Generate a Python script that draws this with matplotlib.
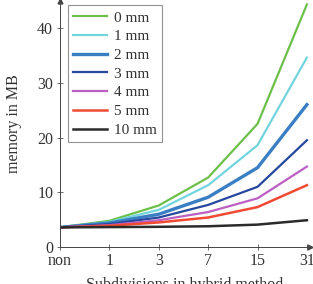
import matplotlib
matplotlib.use("Agg")
import matplotlib.pyplot as plt

# --- data ---
subdiv_labels = ["non", "1", "3", "7", "15", "31"]
series_labels = ["0 mm", "1 mm", "2 mm", "3 mm", "4 mm", "5 mm", "10 mm"]
mem_0mm = [3.6, 4.8, 7.6, 12.7, 22.5, 44.3]
mem_1mm = [3.6, 4.6, 6.8, 11.3, 18.6, 34.6]
mem_2mm = [3.6, 4.4, 6.0, 9.1, 14.5, 26.0]
mem_3mm = [3.6, 4.2, 5.4, 7.7, 11.0, 19.5]
mem_4mm = [3.6, 4.0, 4.9, 6.4, 8.9, 14.7]
mem_5mm = [3.6, 3.9, 4.5, 5.4, 7.3, 11.3]
mem_10mm = [3.6, 3.65, 3.7, 3.8, 4.1, 4.9]

colors = ["#6cc04a", "#72d4dc", "#3a7fc4", "#25479e", "#bb5fc2", "#f04a32", "#2b2b2b"]
widths = [1.6, 1.6, 2.4, 1.6, 1.6, 1.8, 1.8]

plt.rcParams["font.family"] = ["Liberation Serif", "DejaVu Serif"]

fig = plt.figure(figsize=(3.13, 2.84), dpi=100)
ax = fig.add_axes([0.192, 0.130, 0.798, 0.868])

x = list(range(len(subdiv_labels)))
all_series = [mem_0mm, mem_1mm, mem_2mm, mem_3mm, mem_4mm, mem_5mm, mem_10mm]
for ys, lab, c, lw in zip(all_series, series_labels, colors, widths):
    ax.plot(x, ys, color=c, lw=lw, label=lab, solid_joinstyle="miter")

ax.set_xlim(0, 5.06)
ax.set_ylim(0, 45)
ax.set_xticks(x)
ax.set_xticklabels(subdiv_labels)
ax.set_yticks([0, 10, 20, 30, 40])
ax.tick_params(direction="inout", length=4, width=0.6, labelsize=11.5,
               color="#555555", labelcolor="#333333")
ax.tick_params(axis="x", pad=2)
ax.tick_params(axis="y", pad=3)

for s in ["top", "right"]:
    ax.spines[s].set_visible(False)
for s in ["left", "bottom"]:
    ax.spines[s].set_color("#444444")
    ax.spines[s].set_linewidth(0.7)
ax.plot(1, 0, marker=">", color="#444444", ms=3.5, transform=ax.transAxes, clip_on=False)
ax.plot(0, 1, marker="^", color="#444444", ms=3.5, transform=ax.transAxes, clip_on=False)

ax.set_xlabel("Subdivisions in hybrid method", fontsize=11.5, color="#333333", labelpad=6)
ax.set_ylabel("memory in MB", fontsize=11.5, color="#333333", labelpad=11)

leg = ax.legend(loc="upper left", bbox_to_anchor=(0.03, 0.98), fontsize=11,
                frameon=True, fancybox=False, edgecolor="#777777",
                handlelength=2.2, handletextpad=0.5, labelspacing=0.33,
                borderpad=0.35, borderaxespad=0)
leg.get_frame().set_linewidth(0.8)
for t in leg.get_texts():
    t.set_color("#333333")

fig.savefig("out.png", dpi=100)
